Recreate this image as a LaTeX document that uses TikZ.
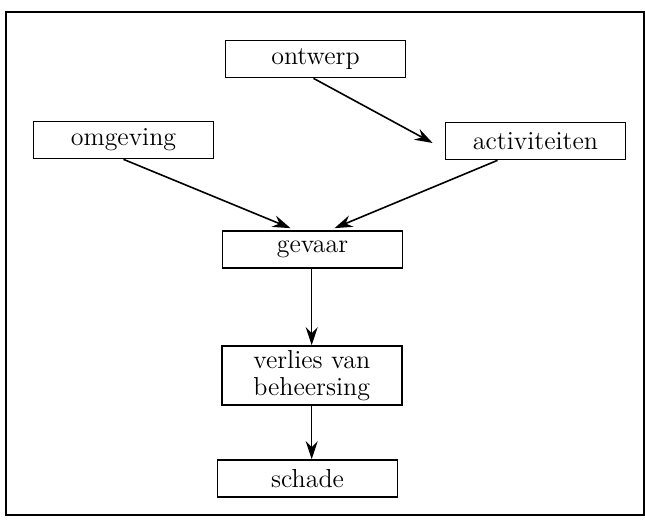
\documentclass[tikz,border=0pt]{standalone}
\usepackage{tikz}
\usetikzlibrary{arrows.meta}
\tikzset{
  blok/.style={draw, line width=0.85pt, minimum width=90pt, minimum height=18.5pt,
    inner sep=1pt, align=center, font=\fontsize{13}{14.5}\selectfont},
  pijl/.style={-{Stealth[length=9pt,width=6pt,inset=3pt]}, line width=0.8pt},
}
\begin{document}
\begin{tikzpicture}[x=0.5pt,y=-0.5pt]
                \useasboundingbox (0,0) rectangle (645,520);
                \draw[line width=0.85pt] (6,12) rectangle (644,515);
                \node[blok] (ontwerp) at (315.5,59) {ontwerp};
                \node[blok] (omgeving) at (123.5,140) {omgeving};
                \node[blok] (activiteiten) at (535.5,141) {activiteiten};
                \node[blok] (gevaar) at (312.5,249.5) {gevaar};
                \node[blok, minimum height=29.5pt] (verlies) at (311.7,375.5) {verlies van\\[-1pt]beheersing};
                \node[blok] (schade) at (307.5,478.5) {schade};
                \draw[pijl] ([xshift=-1pt]ontwerp.south) -- ([xshift=-6pt,yshift=-1pt]activiteiten.west);
                \draw[pijl] (omgeving.south) -- ([xshift=-11pt,yshift=1pt]gevaar.north);
                \draw[pijl] ([xshift=-19pt]activiteiten.south) -- ([xshift=11pt,yshift=1pt]gevaar.north);
                \draw[pijl] ([xshift=-0.4pt]gevaar.south) -- ([xshift=-0.4pt]gevaar.south |- verlies.north);
                \draw[pijl] (verlies.south) -- (verlies.south |- schade.north);
            \end{tikzpicture}
\end{document}
